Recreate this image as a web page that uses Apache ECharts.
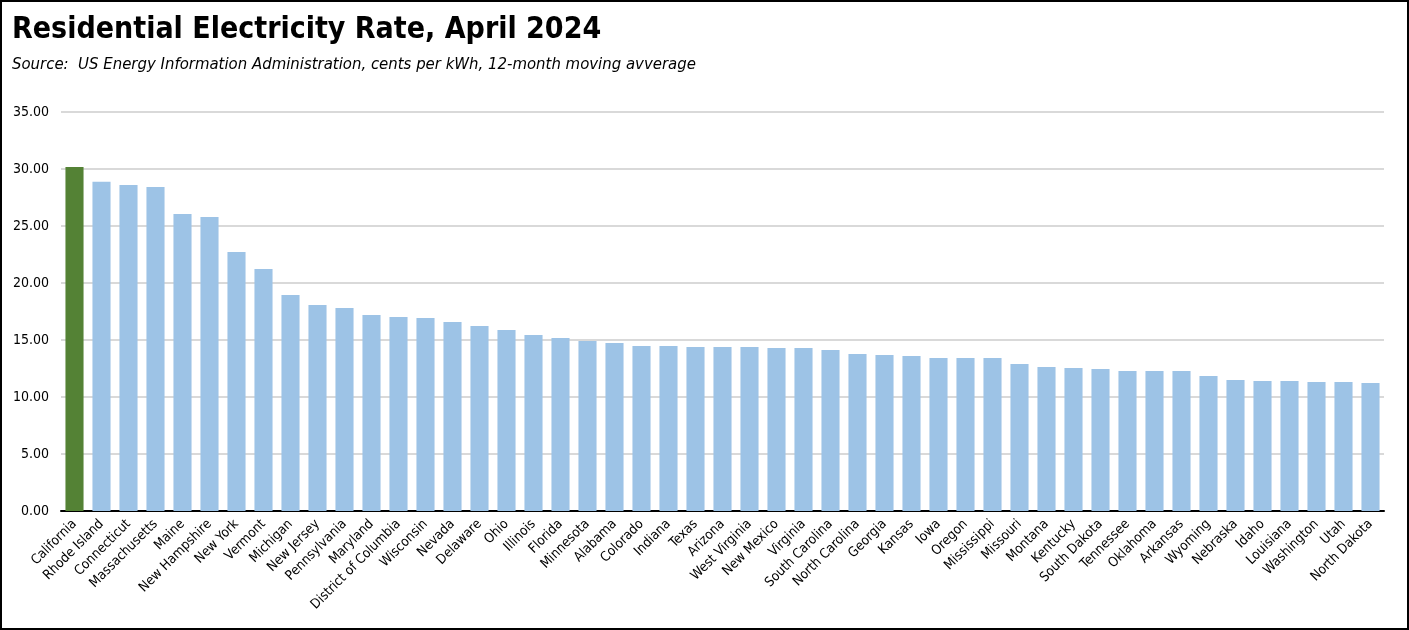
<!DOCTYPE html>
<html>
<head>
<meta charset="utf-8">
<script src="https://cdn.jsdelivr.net/npm/echarts@6/dist/echarts.min.js"></script>
<style>
html,body{margin:0;padding:0;background:#fff;}
#wrap{position:absolute;left:0;top:0;width:1405px;height:626px;border:2px solid #000;background:#fff;}
#chart{position:absolute;left:-2px;top:-2px;width:1409px;height:630px;}
</style>
</head>
<body>
<div id="wrap"><div id="chart"></div></div>
<script>
const states = ["California","Rhode Island","Connecticut","Massachusetts","Maine","New Hampshire","New York","Vermont","Michigan","New Jersey","Pennsylvania","Maryland","District of Columbia","Wisconsin","Nevada","Delaware","Ohio","Illinois","Florida","Minnesota","Alabama","Colorado","Indiana","Texas","Arizona","West Virginia","New Mexico","Virginia","South Carolina","North Carolina","Georgia","Kansas","Iowa","Oregon","Mississippi","Missouri","Montana","Kentucky","South Dakota","Tennessee","Oklahoma","Arkansas","Wyoming","Nebraska","Idaho","Louisiana","Washington","Utah","North Dakota"];
const rates = [30.17,28.89,28.60,28.42,26.05,25.79,22.72,21.23,18.95,18.07,17.80,17.19,17.02,16.93,16.58,16.23,15.88,15.44,15.18,14.91,14.74,14.47,14.47,14.38,14.38,14.38,14.30,14.30,14.12,13.77,13.68,13.60,13.42,13.42,13.42,12.90,12.63,12.54,12.46,12.28,12.28,12.28,11.84,11.49,11.40,11.40,11.32,11.32,11.23];
const highlight = "California";
const yTicks = {min:0, max:35, interval:5};
const titleText = "Residential Electricity Rate, April 2024";
const subText = "Source:  US Energy Information Administration, cents per kWh, 12-month moving avverage";

const font = "'Liberation Sans Narrow','DejaVu Sans Condensed','Open Sans',sans-serif";
const chart = echarts.init(document.getElementById('chart'), null, {renderer:'canvas'});
chart.setOption({
  animation:false,
  backgroundColor:'transparent',
  title:[
    {text:titleText, left:7, top:10, textStyle:{fontFamily:font, fontWeight:'bold', fontSize:30, color:'#000'}},
    {text:subText, left:7, top:51, textStyle:{fontFamily:font, fontStyle:'italic', fontWeight:'normal', fontSize:16.6, color:'#000'}}
  ],
  grid:{left:61, right:25, top:112, bottom:119, containLabel:false},
  xAxis:{
    type:'category', data:states,
    axisLine:{lineStyle:{color:'#000', width:2}},
    axisTick:{show:false},
    axisLabel:{rotate:45, interval:0, fontFamily:font, fontSize:13.5, color:'#000', margin:11}
  },
  yAxis:{
    type:'value', min:yTicks.min, max:yTicks.max, interval:yTicks.interval,
    axisLine:{show:false}, axisTick:{show:false},
    splitLine:{lineStyle:{color:'#d9d9d9', width:2}},
    axisLabel:{formatter:v=>v.toFixed(2), fontFamily:font, fontSize:14, color:'#000', margin:12}
  },
  series:[{
    type:'bar', barCategoryGap:'33%',
    data:states.map((s,i)=>({value:rates[i], itemStyle:{color: s===highlight ? '#548235' : '#9dc3e6'}}))
  }]
});
</script>
</body>
</html>
